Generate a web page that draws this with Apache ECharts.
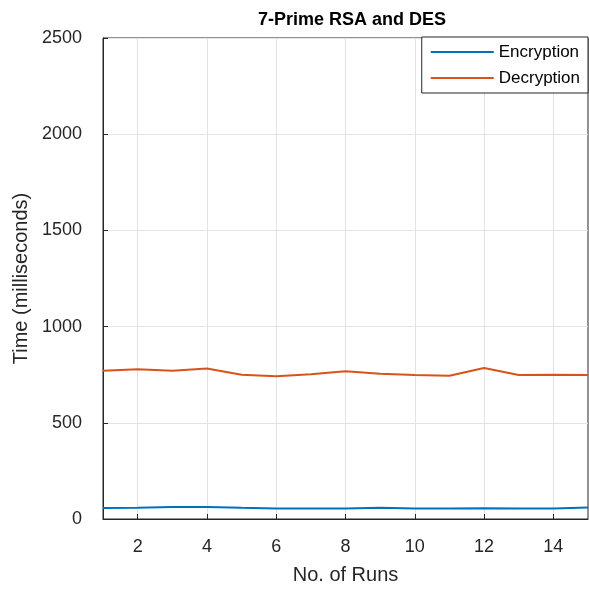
<!DOCTYPE html>
<html>
<head>
<meta charset="utf-8">
<script src="https://cdn.jsdelivr.net/npm/echarts@6/dist/echarts.min.js"></script>
<style>html,body{margin:0;padding:0;background:#fff;}#c{width:589px;height:590px;}</style>
</head>
<body>
<div id="c"></div>
<script>
const runs = [1,2,3,4,5,6,7,8,9,10,11,12,13,14,15];
const encryption = [57,58,63,62,58,55,55,55,58,55,55,56,55,55,60];
const decryption = [770,778,770,782,750,742,752,768,755,748,745,785,748,750,748];
const xTicks = [2,4,6,8,10,12,14];
const yTicks = [0,500,1000,1500,2000,2500];

const chart = echarts.init(document.getElementById('c'));
const txt = '#262626';
const ff = 'Liberation Sans';
chart.setOption({
  animation: false,
  title: {
    text: '7-Prime RSA and DES',
    left: 347, top: 6, textAlign: 'center',
    textStyle: {fontFamily: ff, fontSize: 18, fontWeight: 'bold', color: '#000'}
  },
  legend: {
    right: 1, top: 37, orient: 'vertical',
    itemWidth: 63, itemHeight: 2, itemGap: 6,
    padding: [5, 8, 5, 9],
    backgroundColor: '#fff', borderColor: txt, borderWidth: 1,
    icon: 'rect',
    textStyle: {fontFamily: ff, fontSize: 17, color: '#000', lineHeight: 20},
    data: ['Encryption', 'Decryption']
  },
  grid: {left: 103, right: 1, top: 38, bottom: 68, show: true, borderColor: txt, borderWidth: 1},
  xAxis: {
    type: 'value', min: 1, max: 15,
    name: 'No. of Runs', nameLocation: 'middle', nameGap: 46,
    nameTextStyle: {fontFamily: ff, fontSize: 20, color: txt},
    axisLine: {lineStyle: {color: txt}},
    axisTick: {inside: true, length: 5, customValues: xTicks, lineStyle: {color: txt}},
    axisLabel: {customValues: xTicks, fontFamily: ff, fontSize: 18, color: txt, margin: 19},
    splitLine: {show: true, lineStyle: {color: '#e3e3e3'}}
  },
  yAxis: {
    type: 'value', min: 0, max: 2500, interval: 500,
    name: 'Time (milliseconds)', nameLocation: 'middle', nameGap: 63,
    nameTextStyle: {fontFamily: ff, fontSize: 20, color: txt},
    axisLine: {show: true, lineStyle: {color: txt}},
    axisTick: {show: true, inside: true, length: 5, lineStyle: {color: txt}},
    axisLabel: {formatter: v => String(v), fontFamily: ff, fontSize: 18, color: txt, margin: 21},
    splitLine: {show: true, lineStyle: {color: '#e3e3e3'}}
  },
  series: [
    {name: 'Encryption', type: 'line', data: runs.map((r,i)=>[r, encryption[i]]),
     showSymbol: false, lineStyle: {width: 2, color: '#0072BD'}, itemStyle: {color: '#0072BD'}},
    {name: 'Decryption', type: 'line', data: runs.map((r,i)=>[r, decryption[i]]),
     showSymbol: false, lineStyle: {width: 2, color: '#D95319'}, itemStyle: {color: '#D95319'}}
  ]
});
</script>
</body>
</html>
